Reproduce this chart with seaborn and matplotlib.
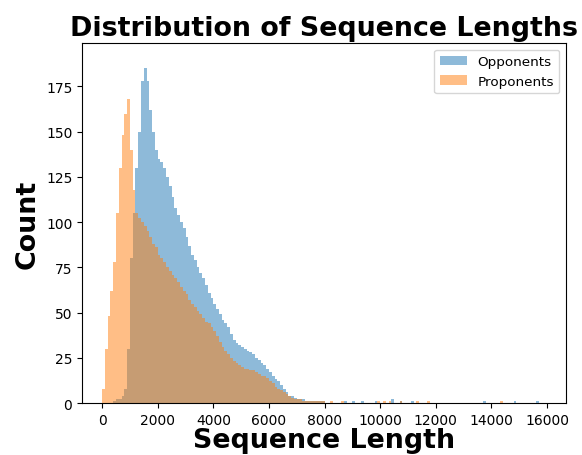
import numpy as np
import pandas as pd
import matplotlib
matplotlib.use("Agg")
import matplotlib.pyplot as plt
import seaborn as sns

# counts, 100-wide bins starting at 0 (0..7900)
bin_width = 100
opponents_counts = [
    0, 0, 0, 0, 1, 2, 2, 4, 8, 30,
    80, 105, 130, 150, 178, 185, 178, 162, 150, 140,
    135, 133, 130, 125, 120, 114, 108, 104, 100, 97,
    92, 87, 82, 79, 75, 72, 69, 65, 61, 58,
    55, 52, 49, 46, 44, 42, 38, 35, 33, 32,
    31, 30, 29, 28, 27, 25, 24, 22, 21, 19,
    17, 15, 13, 12, 10, 8, 6, 4, 4, 3,
    2, 2, 2, 1, 1, 1, 1, 1, 1, 1,
]
proponents_counts = [
    8, 30, 48, 62, 78, 105, 130, 148, 160, 168,
    140, 118, 105, 102, 100, 98, 95, 92, 88, 86,
    82, 80, 78, 75, 73, 71, 69, 67, 64, 62,
    60, 57, 55, 53, 51, 49, 47, 45, 44, 42,
    40, 37, 34, 31, 29, 27, 25, 23, 22, 21,
    20, 19, 19, 18, 18, 17, 16, 15, 15, 14,
    12, 11, 9, 8, 7, 6, 5, 4, 3, 2,
    2, 2, 1, 1, 1, 1, 1, 1, 1, 1,
]

# sparse long tail (sequence length, count)
opponents_tail_x = [8700, 9000, 9300, 9800, 10400, 10700, 11100, 13700, 14800, 15600]
opponents_tail_n = [1, 1, 1, 1, 2, 1, 1, 1, 1, 1]
proponents_tail_x = [8200, 8600, 9900, 10100, 10300, 10700, 11300, 11700, 14300]
proponents_tail_n = [1, 1, 1, 1, 1, 1, 1, 1, 1]

edges = list(range(0, 16000 + bin_width, bin_width))


def to_frame(counts, tail_x, tail_n):
    centers = [i * bin_width + bin_width / 2 for i in range(len(counts))]
    centers += [x + bin_width / 2 for x in tail_x]
    return pd.DataFrame({"length": centers, "n": list(counts) + list(tail_n)})


opp = to_frame(opponents_counts, opponents_tail_x, opponents_tail_n)
pro = to_frame(proponents_counts, proponents_tail_x, proponents_tail_n)

fig, ax = plt.subplots(figsize=(5.82, 4.56), dpi=100)
fig.subplots_adjust(left=0.141, right=0.9725, top=0.9035, bottom=0.114)

sns.histplot(data=opp, x="length", weights="n", bins=edges, color="C0",
             alpha=0.5, linewidth=0, ax=ax, label="Opponents")
sns.histplot(data=pro, x="length", weights="n", bins=edges, color="C1",
             alpha=0.5, linewidth=0, ax=ax, label="Proponents")

ax.set_xlim(-720, 16680)
ax.set_ylim(0, 199)
ax.set_xticks(np.arange(0, 16001, 2000))
ax.set_yticks(np.arange(0, 176, 25))
ax.set_title("Distribution of Sequence Lengths", fontsize=19.4, fontweight="bold")
ax.set_xlabel("Sequence Length", fontsize=19.4, fontweight="bold", labelpad=0)
ax.set_ylabel("Count", fontsize=19.4, fontweight="bold")
ax.legend(loc="upper right", fontsize=9.7)

fig.savefig("out.png", dpi=100)
